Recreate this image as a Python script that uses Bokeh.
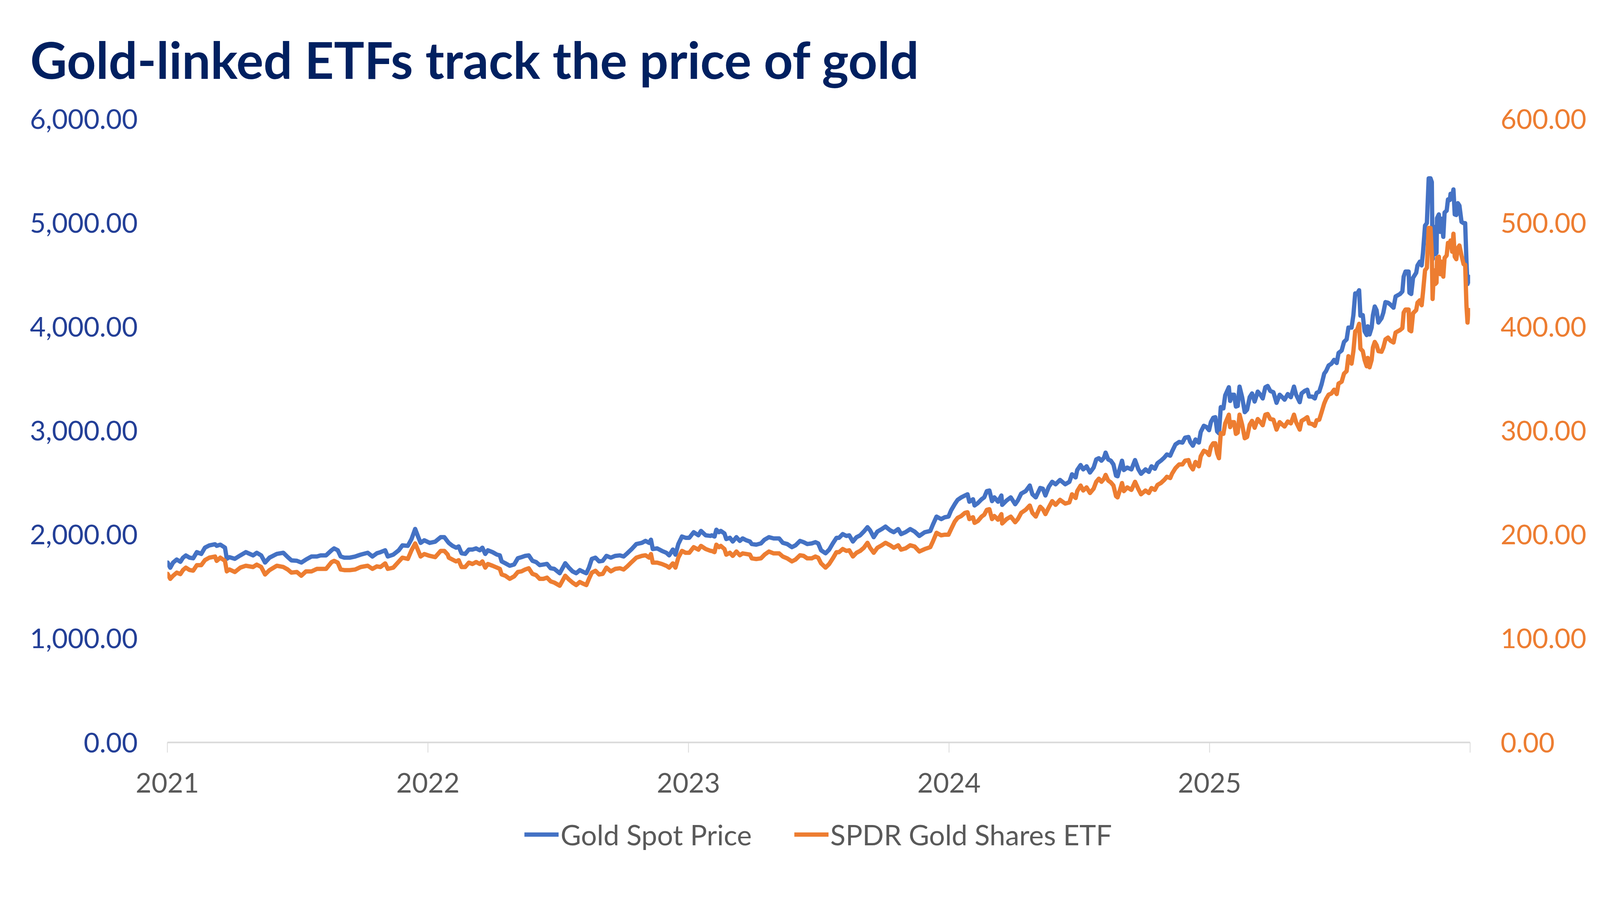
from bokeh.plotting import figure
from bokeh.layouts import column
from bokeh.models import (Range1d, LinearAxis, FixedTicker, NumeralTickFormatter,
                          Legend, LegendItem, Title)
from bokeh.embed import file_html
from bokeh.resources import INLINE

# ---------------- data ----------------
title_text = "Gold-linked ETFs track the price of gold"
series_names = ["Gold Spot Price", "SPDR Gold Shares ETF"]
year_ticks = [2021, 2022, 2023, 2024, 2025, 2026]
year_labels = ["2021", "2022", "2023", "2024", "2025", ""]
gold_ticks = [0, 1000, 2000, 3000, 4000, 5000, 6000]
etf_ticks = [0, 100, 200, 300, 400, 500, 600]

# time in fractional years
t = [
    2021.001, 2021.011, 2021.022, 2021.036, 2021.050, 2021.060, 2021.071, 2021.085, 2021.099, 2021.113,
    2021.130, 2021.144, 2021.161, 2021.183, 2021.189, 2021.203, 2021.221, 2021.228, 2021.238, 2021.259,
    2021.280, 2021.301, 2021.329, 2021.343, 2021.360, 2021.375, 2021.392, 2021.420, 2021.445, 2021.462,
    2021.476, 2021.497, 2021.514, 2021.532, 2021.553, 2021.574, 2021.588, 2021.609, 2021.630, 2021.640,
    2021.654, 2021.665, 2021.679, 2021.700, 2021.721, 2021.742, 2021.769, 2021.787, 2021.804, 2021.818,
    2021.836, 2021.846, 2021.867, 2021.888, 2021.902, 2021.923, 2021.937, 2021.951, 2021.962, 2021.972,
    2021.986, 2022.007, 2022.028, 2022.049, 2022.063, 2022.076,
    2022.080, 2022.094, 2022.108, 2022.118, 2022.129, 2022.143, 2022.157, 2022.171, 2022.185, 2022.199,
    2022.209, 2022.220, 2022.230, 2022.248, 2022.265, 2022.276, 2022.283, 2022.297, 2022.314, 2022.331,
    2022.345, 2022.359, 2022.373, 2022.387, 2022.401, 2022.415, 2022.429, 2022.443, 2022.457, 2022.471,
    2022.485, 2022.506, 2022.527, 2022.541, 2022.555, 2022.569, 2022.583, 2022.597, 2022.608, 2022.618,
    2022.629, 2022.643, 2022.657, 2022.671, 2022.685, 2022.702, 2022.719, 2022.737, 2022.751, 2022.765,
    2022.782, 2022.800, 2022.821, 2022.835, 2022.849, 2022.856, 2022.863, 2022.880, 2022.898, 2022.915,
    2022.926, 2022.940, 2022.950, 2022.961, 2022.975, 2022.989, 2023.003, 2023.020, 2023.038, 2023.048,
    2023.066, 2023.085,
    2023.089, 2023.100, 2023.107, 2023.117, 2023.124, 2023.138, 2023.145, 2023.159, 2023.170, 2023.184,
    2023.197, 2023.208, 2023.222, 2023.236, 2023.243, 2023.260, 2023.278, 2023.292, 2023.309, 2023.327,
    2023.348, 2023.362, 2023.379, 2023.397, 2023.411, 2023.428, 2023.442, 2023.456, 2023.473, 2023.487,
    2023.498, 2023.509, 2023.526, 2023.540, 2023.554, 2023.568, 2023.578, 2023.592, 2023.606, 2023.617,
    2023.631, 2023.645, 2023.659, 2023.673, 2023.687, 2023.697, 2023.711, 2023.725, 2023.742, 2023.756,
    2023.774, 2023.788, 2023.805, 2023.816, 2023.833, 2023.851, 2023.868, 2023.886, 2023.907, 2023.928,
    2023.938, 2023.952, 2023.970, 2023.984, 2023.998, 2024.008, 2024.022, 2024.033, 2024.047, 2024.061,
    2024.071,
    2024.078, 2024.092, 2024.098, 2024.111, 2024.125, 2024.135, 2024.145, 2024.155, 2024.165, 2024.174,
    2024.188, 2024.201, 2024.204, 2024.221, 2024.237, 2024.254, 2024.264, 2024.277, 2024.294, 2024.310,
    2024.320, 2024.333, 2024.350, 2024.360, 2024.370, 2024.383, 2024.396, 2024.409, 2024.426, 2024.446,
    2024.462, 2024.472, 2024.486, 2024.492, 2024.505, 2024.515, 2024.528, 2024.541, 2024.555, 2024.565,
    2024.575, 2024.585, 2024.595, 2024.601, 2024.611, 2024.621, 2024.631, 2024.641, 2024.647, 2024.657,
    2024.664, 2024.671, 2024.684, 2024.700, 2024.714, 2024.727, 2024.737, 2024.754, 2024.767, 2024.777,
    2024.790, 2024.800, 2024.813, 2024.826, 2024.836, 2024.849, 2024.856, 2024.869, 2024.883, 2024.896,
    2024.906, 2024.919, 2024.926, 2024.936, 2024.946, 2024.959,
    2024.966, 2024.978, 2024.988, 2024.998, 2025.005, 2025.014, 2025.022, 2025.029, 2025.036, 2025.043,
    2025.053, 2025.060, 2025.074, 2025.079, 2025.086, 2025.094, 2025.101, 2025.108, 2025.115, 2025.125,
    2025.135, 2025.144, 2025.154, 2025.163, 2025.173, 2025.185, 2025.195, 2025.204, 2025.214, 2025.223,
    2025.233, 2025.245, 2025.257, 2025.269, 2025.279, 2025.288, 2025.300, 2025.312, 2025.324, 2025.332,
    2025.346, 2025.353, 2025.365, 2025.375, 2025.382, 2025.394, 2025.404, 2025.411, 2025.421, 2025.430,
    2025.440, 2025.447, 2025.457, 2025.468, 2025.478, 2025.488, 2025.495, 2025.507, 2025.516, 2025.526,
    2025.533, 2025.545,
    2025.552, 2025.559, 2025.566, 2025.574, 2025.579, 2025.588, 2025.595, 2025.603, 2025.607, 2025.614,
    2025.622, 2025.627, 2025.634, 2025.641, 2025.648, 2025.660, 2025.667, 2025.675, 2025.685, 2025.694,
    2025.706, 2025.714, 2025.731, 2025.740, 2025.745, 2025.752, 2025.764, 2025.767, 2025.774, 2025.781,
    2025.793, 2025.798, 2025.807, 2025.814, 2025.819, 2025.827, 2025.834, 2025.841, 2025.848, 2025.853,
    2025.856, 2025.861, 2025.866, 2025.871, 2025.873, 2025.880, 2025.885, 2025.890, 2025.897, 2025.902,
    2025.910, 2025.915, 2025.922, 2025.925, 2025.931, 2025.936, 2025.941, 2025.947, 2025.953, 2025.959,
    2025.967, 2025.975, 2025.981, 2025.986, 2025.990, 2025.994, 2025.998,
]

gold_spot = [
    1731, 1681, 1731, 1760, 1738, 1778, 1799, 1778, 1772, 1831,
    1814, 1874, 1896, 1907, 1892, 1903, 1874, 1767, 1783, 1767,
    1800, 1831, 1800, 1825, 1800, 1731, 1778, 1814, 1825, 1783,
    1752, 1748, 1731, 1760, 1789, 1789, 1800, 1800, 1849, 1867,
    1849, 1789, 1778, 1778, 1789, 1807, 1825, 1789, 1820, 1831,
    1849, 1789, 1807, 1849, 1896, 1892, 1957, 2054, 1982, 1920,
    1945, 1920, 1932, 1975, 1975, 1932,
    1920, 1892, 1874, 1886, 1820, 1814, 1856, 1856, 1867, 1849,
    1874, 1814, 1849, 1831, 1807, 1800, 1742, 1724, 1700, 1712,
    1772, 1783, 1795, 1800, 1748, 1736, 1706, 1712, 1718, 1676,
    1670, 1628, 1724, 1682, 1646, 1628, 1658, 1640, 1628, 1682,
    1766, 1778, 1742, 1748, 1795, 1778, 1795, 1800, 1789, 1820,
    1861, 1909, 1920, 1939, 1920, 1951, 1861, 1867, 1843, 1825,
    1800, 1856, 1807, 1909, 1981, 1969, 1969, 2023, 1993, 2035,
    1993, 1987,
    1993, 1981, 2047, 2023, 2035, 2011, 1957, 1969, 1933, 1975,
    1939, 1963, 1945, 1933, 1909, 1903, 1915, 1951, 1975, 1963,
    1963, 1921, 1909, 1879, 1897, 1939, 1927, 1909, 1915, 1927,
    1915, 1849, 1820, 1855, 1915, 1969, 1969, 2005, 1987, 1993,
    1933, 1975, 1993, 2029, 2071, 2041, 1975, 2029, 2053, 2077,
    2041, 2023, 2053, 2005, 2023, 2053, 2029, 1987, 2023, 2035,
    2095, 2173, 2149, 2167, 2173, 2233, 2293, 2334, 2358, 2376,
    2388,
    2316, 2340, 2280, 2304, 2340, 2358, 2418, 2424, 2322, 2358,
    2316, 2376, 2286, 2328, 2358, 2292, 2328, 2394, 2418, 2472,
    2388, 2358, 2448, 2442, 2376, 2460, 2508, 2484, 2526, 2484,
    2508, 2580, 2550, 2621, 2669, 2627, 2657, 2597, 2645, 2723,
    2735, 2711, 2741, 2789, 2723, 2711, 2675, 2567, 2561, 2651,
    2711, 2621, 2645, 2627, 2717, 2627, 2585, 2627, 2603, 2657,
    2633, 2687, 2711, 2741, 2771, 2759, 2800, 2867, 2891, 2885,
    2933, 2939, 2891, 2855, 2915, 2885,
    2987, 3047, 3035, 3005, 3082, 3124, 3130, 2993, 2975, 3226,
    3214, 3340, 3418, 3286, 3346, 3346, 3232, 3238, 3424, 3322,
    3178, 3202, 3322, 3358, 3280, 3376, 3346, 3310, 3418, 3430,
    3382, 3370, 3268, 3346, 3322, 3298, 3352, 3322, 3424, 3346,
    3274, 3358, 3382, 3394, 3328, 3328, 3310, 3364, 3376, 3447,
    3549, 3573, 3627, 3645, 3681, 3651, 3747, 3771, 3854, 3878,
    3992, 3992,
    4112, 4321, 4315, 4351, 4106, 4112, 3956, 3920, 4004, 3926,
    3992, 4112, 4195, 4159, 4040, 4082, 4136, 4237, 4231, 4213,
    4183, 4291, 4315, 4339, 4483, 4531, 4531, 4327, 4315, 4471,
    4519, 4590, 4626, 4590, 4710, 4973, 4997, 5428, 5428, 5392,
    4650, 4961, 4698, 4710, 5045, 5081, 4913, 5039, 4865, 5099,
    5117, 5225, 5219, 5279, 5249, 5321, 5081, 5075, 5189, 5165,
    5009, 4997, 4997, 4626, 4411, 4483, 4435,
]

spdr_etf = [
    162.2, 157.4, 160.4, 163.4, 162.0, 165.9, 168.2, 165.9, 165.3, 170.6,
    170.6, 175.4, 177.8, 178.9, 174.7, 177.8, 174.7, 164.6, 166.4, 164.0,
    168.2, 170.0, 168.8, 171.1, 168.8, 161.6, 165.8, 170.0, 168.8, 166.4,
    163.4, 164.0, 160.4, 164.6, 164.6, 167.0, 167.0, 167.0, 173.5, 174.7,
    173.0, 166.4, 165.8, 165.8, 166.4, 168.8, 170.0, 167.0, 169.4, 168.8,
    172.3, 167.0, 168.2, 174.0, 177.8, 176.6, 184.9, 191.5, 184.9, 178.9,
    181.3, 179.5, 178.3, 184.3, 184.3, 180.7,
    177.8, 176.0, 174.2, 175.4, 168.8, 168.8, 173.0, 171.7, 173.6, 171.7,
    174.2, 168.2, 171.7, 170.0, 168.2, 167.0, 161.6, 160.4, 157.4, 159.8,
    164.0, 164.6, 166.4, 167.6, 162.2, 161.0, 157.4, 157.4, 158.6, 155.0,
    153.8, 150.8, 160.4, 156.8, 153.8, 151.4, 154.4, 152.6, 151.4, 157.4,
    163.4, 165.2, 161.6, 162.2, 168.2, 164.6, 167.0, 167.6, 166.4, 169.4,
    173.6, 177.8, 179.5, 180.1, 177.8, 181.3, 173.0, 173.0, 171.7, 170.0,
    168.2, 172.3, 168.2, 177.8, 184.3, 182.5, 182.5, 187.9, 185.5, 189.1,
    186.1, 184.3,
    184.3, 183.1, 190.3, 187.9, 189.1, 186.1, 180.7, 182.5, 179.5, 183.7,
    180.1, 181.9, 181.3, 180.7, 177.1, 176.5, 177.1, 180.7, 183.7, 181.9,
    181.9, 178.9, 177.1, 174.2, 176.0, 180.1, 179.5, 177.1, 177.1, 178.9,
    177.7, 172.3, 168.2, 171.7, 177.1, 183.1, 183.1, 186.1, 184.3, 184.9,
    178.9, 182.5, 184.3, 187.3, 192.1, 187.3, 182.5, 187.3, 189.7, 192.1,
    189.7, 187.3, 189.7, 185.5, 186.7, 189.7, 188.5, 183.7, 186.1, 187.9,
    193.3, 201.7, 199.3, 199.9, 199.9, 205.3, 212.5, 216.1, 217.9, 220.9,
    221.5,
    214.9, 216.7, 211.3, 213.1, 217.3, 219.1, 223.8, 224.4, 214.9, 217.9,
    214.3, 219.7, 210.7, 214.9, 217.3, 211.9, 214.9, 220.9, 223.8, 228.0,
    220.9, 217.3, 226.8, 224.4, 219.7, 226.2, 232.2, 228.6, 233.4, 229.8,
    231.0, 238.8, 235.2, 241.8, 247.2, 242.4, 245.4, 240.0, 244.2, 250.8,
    253.8, 250.8, 253.8, 257.4, 252.0, 250.2, 247.2, 237.0, 235.8, 243.6,
    249.6, 241.8, 245.4, 243.0, 250.8, 243.6, 238.8, 242.4, 240.0, 244.8,
    243.0, 247.8, 249.6, 252.6, 255.6, 254.4, 258.6, 263.9, 267.5, 267.5,
    271.1, 271.7, 266.3, 262.7, 269.9, 265.7,
    275.3, 280.7, 279.5, 276.5, 284.3, 287.9, 287.9, 278.3, 273.5, 297.5,
    296.9, 307.0, 315.4, 303.4, 308.2, 308.2, 296.9, 298.1, 315.4, 305.8,
    292.7, 293.9, 305.8, 309.4, 302.8, 311.2, 308.2, 305.2, 315.4, 316.0,
    311.2, 310.6, 301.0, 308.2, 305.8, 304.0, 308.8, 307.0, 315.4, 308.2,
    301.0, 309.4, 311.2, 313.0, 307.0, 306.4, 304.6, 310.0, 310.6, 317.8,
    326.2, 330.4, 334.6, 335.8, 339.4, 335.2, 345.3, 347.1, 354.9, 357.3,
    371.7, 364.5,
    376.5, 395.6, 396.8, 402.8, 378.9, 376.5, 368.0, 362.0, 370.0, 361.0,
    368.0, 380.1, 385.4, 382.4, 376.5, 375.9, 380.1, 387.8, 389.6, 386.6,
    384.8, 394.4, 396.8, 398.6, 413.6, 416.6, 416.6, 396.8, 395.6, 413.0,
    416.0, 423.1, 425.5, 420.7, 432.7, 454.3, 456.7, 495.1, 495.0, 470.0,
    426.7, 454.3, 441.1, 442.3, 466.2, 467.4, 450.6, 462.6, 448.2, 466.2,
    468.6, 480.6, 480.6, 483.0, 472.2, 489.5, 467.4, 465.0, 475.8, 478.2,
    468.6, 460.2, 459.6, 420.0, 404.0, 416.0, 416.0,
]

# ---------------- styling ----------------
FONT = "Lato"
BLUE = "#4472C4"
ORANGE = "#ED7D31"
LEFT_LBL = "#233F97"
TITLE_C = "#002060"
GREY_TXT = "#595959"
AXIS_GREY = "#D9D9D9"
LINE_W = 11

W = 4080
p = figure(width=W, height=2081,
           x_range=Range1d(year_ticks[0], year_ticks[-1]),
           y_range=Range1d(gold_ticks[0], gold_ticks[-1]),
           x_axis_location=None, y_axis_location=None,
           output_backend="svg", toolbar_location=None,
           min_border_left=428, min_border_right=317,
           min_border_top=294, min_border_bottom=180)
p.extra_y_ranges = {"etf": Range1d(etf_ticks[0], etf_ticks[-1])}
p.outline_line_color = None
p.background_fill_color = "white"
p.border_fill_color = "white"
p.grid.visible = False

fmt = NumeralTickFormatter(format="0,0.00")

left_ax = LinearAxis(ticker=FixedTicker(ticks=gold_ticks), formatter=fmt)
left_ax.axis_line_color = None
left_ax.major_tick_line_color = None
left_ax.minor_tick_line_color = None
left_ax.major_label_text_font = FONT
left_ax.major_label_text_font_size = "70px"
left_ax.major_label_text_color = LEFT_LBL
left_ax.major_label_standoff = 70
p.add_layout(left_ax, "left")

right_ax = LinearAxis(y_range_name="etf", ticker=FixedTicker(ticks=etf_ticks), formatter=fmt)
right_ax.axis_line_color = None
right_ax.major_tick_line_color = None
right_ax.minor_tick_line_color = None
right_ax.major_label_text_font = FONT
right_ax.major_label_text_font_size = "70px"
right_ax.major_label_text_color = ORANGE
right_ax.major_label_standoff = 72
p.add_layout(right_ax, "right")

bottom_ax = LinearAxis(ticker=FixedTicker(ticks=year_ticks))
bottom_ax.major_label_overrides = {y: lbl for y, lbl in zip(year_ticks, year_labels)}
bottom_ax.axis_line_color = AXIS_GREY
bottom_ax.axis_line_width = 4
bottom_ax.major_tick_line_color = AXIS_GREY
bottom_ax.major_tick_line_width = 2
bottom_ax.major_tick_in = 0
bottom_ax.major_tick_out = 26
bottom_ax.minor_tick_line_color = None
bottom_ax.major_label_text_font = FONT
bottom_ax.major_label_text_font_size = "70px"
bottom_ax.major_label_text_color = GREY_TXT
bottom_ax.major_label_standoff = 52
p.add_layout(bottom_ax, "below")

p.line(t, gold_spot, line_color=BLUE, line_width=LINE_W,
       line_join="round", line_cap="round")
p.line(t, spdr_etf, y_range_name="etf", line_color=ORANGE, line_width=LINE_W,
       line_join="round", line_cap="round")

title = Title(text=title_text, align="left", vertical_align="top",
              offset=-351, standoff=146,
              text_font=FONT, text_font_style="bold", text_font_size="130px",
              text_color=TITLE_C)
p.add_layout(title, "above")

# ---------------- legend strip under the chart ----------------
# key renderers reuse the first sample of each series; it lies outside this
# strip's ranges, so only the legend swatches are visible
leg = figure(width=W, height=120, x_range=Range1d(0, 1), y_range=Range1d(0, 1),
             x_axis_location=None, y_axis_location=None,
             output_backend="svg", toolbar_location=None, min_border=0)
leg.outline_line_color = None
leg.background_fill_color = "white"
leg.border_fill_color = "white"
leg.grid.visible = False
k_gold = leg.line(x=t[:1], y=gold_spot[:1], line_color=BLUE, line_width=LINE_W)
k_etf = leg.line(x=t[:1], y=spdr_etf[:1], line_color=ORANGE, line_width=LINE_W)

legend = Legend(items=[LegendItem(label=series_names[0], renderers=[k_gold]),
                       LegendItem(label=series_names[1], renderers=[k_etf])],
                orientation="horizontal", location=(914, 21))
legend.label_text_font = FONT
legend.label_text_font_size = "72px"
legend.label_text_color = GREY_TXT
legend.label_height = 84
legend.glyph_width = 88
legend.glyph_height = 84
legend.label_standoff = 5
legend.spacing = 108
legend.padding = 0
legend.margin = 0
legend.border_line_color = None
legend.background_fill_alpha = 0
leg.add_layout(legend, "center")

layout = column(p, leg, spacing=0)
open("out.html", "w").write(file_html(layout, INLINE))
